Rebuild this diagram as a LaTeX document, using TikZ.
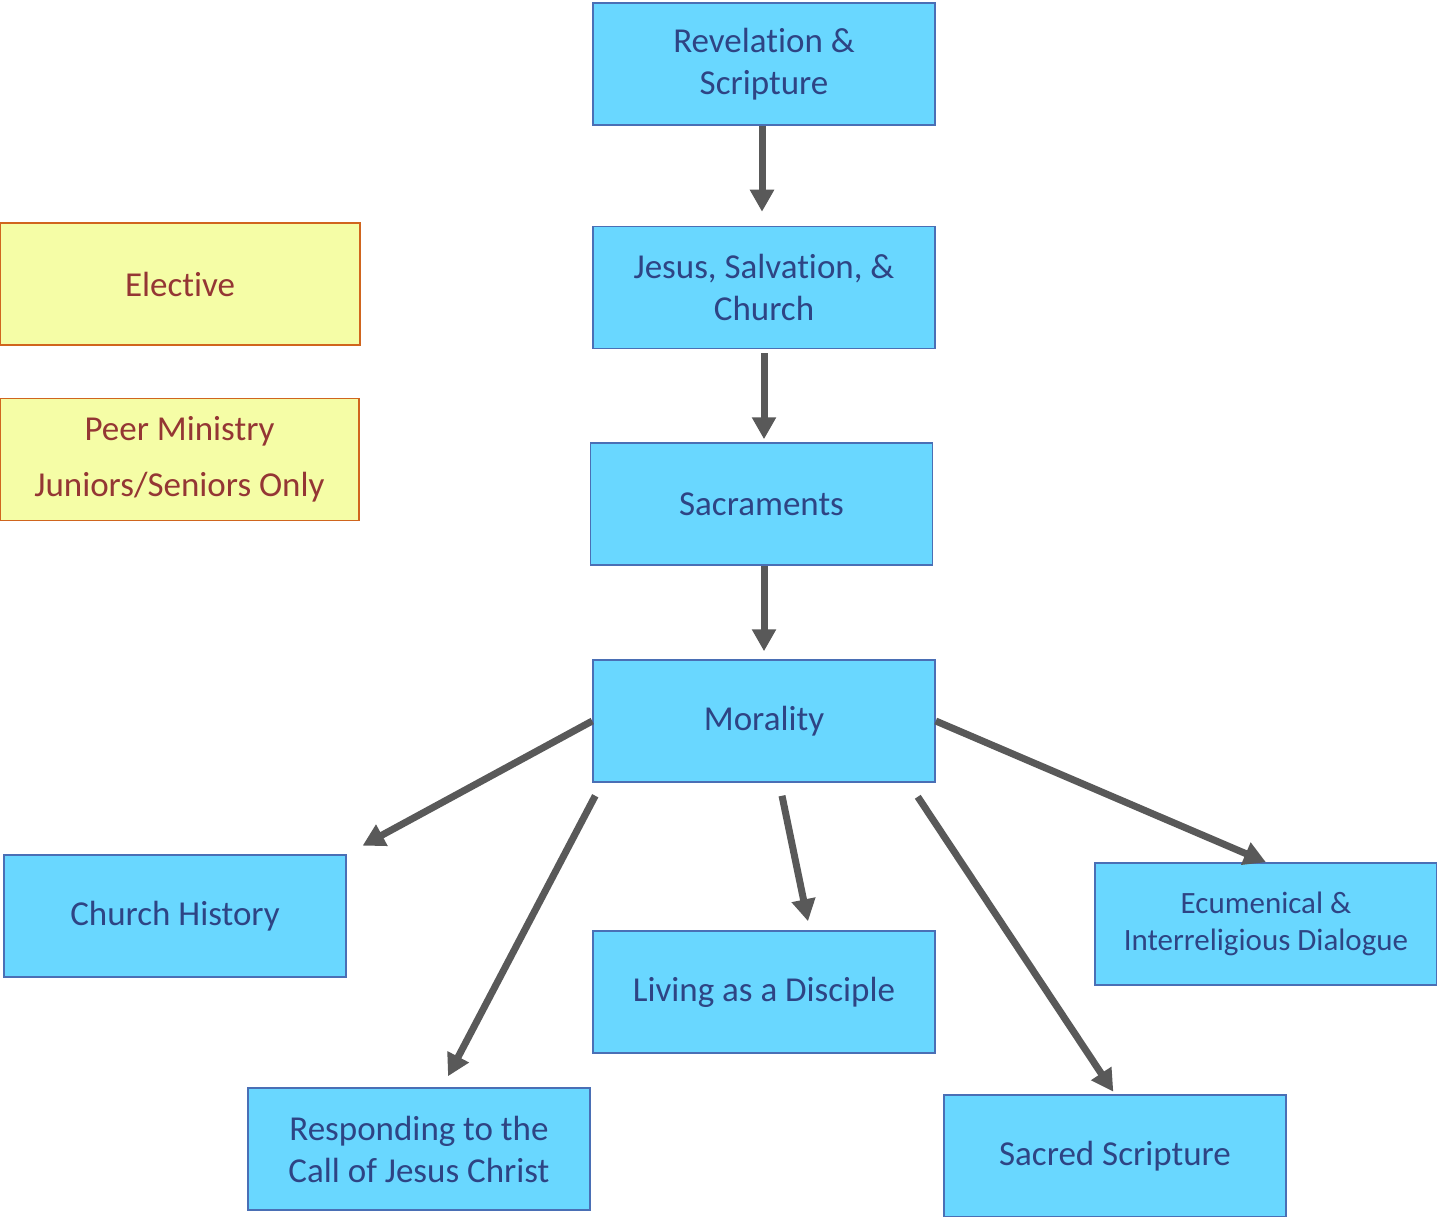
\documentclass[tikz,border=0pt]{standalone}
\usepackage{fontspec}
\setmainfont{Carlito}[Ligatures=NoCommon]
\usetikzlibrary{arrows.meta, positioning, calc}
\definecolor{boxblue}{HTML}{69D7FF}
\definecolor{boxedge}{HTML}{4A6FB5}
\definecolor{boxtext}{HTML}{2E4484}
\definecolor{notefill}{HTML}{F5FDA6}
\definecolor{noteedge}{HTML}{D0651E}
\definecolor{notetext}{HTML}{943634}
\definecolor{arrowgray}{HTML}{595959}
\tikzset{
   mycourse/.style={draw=boxedge, fill=boxblue, text=boxtext, line width=1.5pt,
      minimum height=122pt, minimum width=342pt, inner sep=0pt, align=center,
      font=\fontsize{35}{42}\selectfont},
   mynote/.style={draw=noteedge, fill=notefill, text=notetext, line width=1.5pt,
      minimum height=122pt, minimum width=359pt, inner sep=0pt, align=center,
      font=\fontsize{35}{56}\selectfont},
   myarrow/.style={draw=arrowgray, line width=7pt, -{Triangle[length=22pt,width=23pt]}}
}
\begin{document}
\begin{tikzpicture}[x=1pt, y=-1pt]
      \useasboundingbox (0,0) rectangle (1437,1217);
      % required sequence
      \node[mycourse] (rev) at (764,64) {Revelation \&\\Scripture};
      \node[mycourse] (jesus) at (764,287.5) {Jesus, Salvation, \&\\Church};
      \node[mycourse] (sacr) at (761.5,504) {Sacraments};
      \node[mycourse] (moral) at (764,721) {Morality};
      % legend
      \node[mynote, minimum width=360pt] (elect) at (180,284) {Elective};
      \node[mynote] (peer) at (179.5,459.5) {Peer Ministry\\Juniors/Seniors Only};
      % electives
      \node[mycourse] (hist) at (175,916) {Church History};
      \node[mycourse] (resp) at (419,1149) {Responding to the\\Call of Jesus Christ};
      \node[mycourse] (disc) at (764,992) {Living as a Disciple};
      \node[mycourse] (sscr) at (1115,1156) {Sacred Scripture};
      \node[mycourse, font=\fontsize{31}{37}\selectfont] (ecum) at (1266,924)
         {Ecumenical \&\\Interreligious Dialogue};
      \draw[myarrow, shorten >=14pt] ([xshift=-2pt]rev.south) -- ([xshift=-2pt]rev.south |- jesus.north);
      \draw[myarrow, shorten >=3pt] ([yshift=-4pt]jesus.south) -- (jesus.south |- sacr.north);
      \draw[myarrow, shorten >=8pt] (moral.north |- sacr.south) -- (moral.north);
      \draw[myarrow, shorten >=18pt] (moral.west) -- (hist.north east);
      \draw[myarrow] ([xshift=3pt, yshift=-13pt]moral.south west) -- ([xshift=29pt, yshift=11pt]resp.north);
      \draw[myarrow] ([xshift=18pt, yshift=-13pt]moral.south) -- ([xshift=44pt, yshift=9pt]disc.north);
      \draw[myarrow, shorten >=3pt] ([xshift=-18pt, yshift=-14pt]moral.south east) -- (sscr.north);
      \draw[myarrow] (moral.east) -- (ecum.north);
\end{tikzpicture}
\end{document}
